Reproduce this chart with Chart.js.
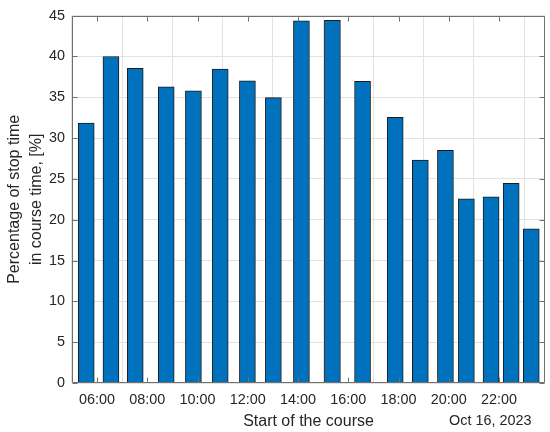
<!DOCTYPE html>
<html><head><meta charset="utf-8">
<script src="https://cdn.jsdelivr.net/npm/chart.js@4.4.0/dist/chart.umd.min.js"></script>
<style>html,body{margin:0;padding:0;background:#fff;overflow:hidden;}</style>
</head><body>
<canvas id="c" width="550" height="432" style="width:550px;height:432px;display:block"></canvas>
<script>
// ---- data ----
const startTimes = ["05:34","06:33","07:31","08:45","09:50","10:54","11:59","13:01","14:08",
                    "15:22","16:34","17:52","18:52","19:52","20:42","21:41","22:29","23:17"];
const stopPercent = [31.85, 40.0, 38.55, 36.27, 35.8, 38.45, 37.0, 34.95, 44.35,
                     44.43, 36.96, 32.55, 27.3, 28.5, 22.55, 22.8, 24.45, 18.9];
const xTickHours = [6, 8, 10, 12, 14, 16, 18, 20, 22];
const xRange = [5.0, 23.83];
const yRange = [0, 45];
const yStep = 5;
const xTitle = "Start of the course";
const yTitle = ["Percentage of stop time", "in course time, [%]"];
const dateLabel = "Oct 16, 2023";

// ---- helpers ----
const toHours = t => { const [h, m] = t.split(":").map(Number); return h + m / 60; };
const fmtHour = v => String(Math.round(v)).padStart(2, "0") + ":00";
const points = startTimes.map((t, i) => ({ x: toHours(t), y: stopPercent[i] }));

const FONT = "'Liberation Sans', Arial, Helvetica, sans-serif";
const TXT = "#262626";
const AX = "#707070";
const TICK_SIZE = 14.4;
const TITLE_SIZE = 16;

const frameTicks = {
  id: "frameTicks",
  afterDatasetsDraw(chart) {
    const { ctx, chartArea: a, scales: { x, y } } = chart;
    ctx.save();
    ctx.strokeStyle = AX;
    ctx.lineWidth = 1;
    const L = Math.round(a.left) + 0.5, R = Math.round(a.right) - 0.5;
    const T = Math.round(a.top) + 0.5, B = Math.round(a.bottom) - 0.5;
    ctx.beginPath();
    ctx.rect(L, T, R - L, B - T);
    xTickHours.forEach(h => {
      const px = Math.round(x.getPixelForValue(h)) + 0.5;
      ctx.moveTo(px, B); ctx.lineTo(px, B - 5);
      ctx.moveTo(px, T); ctx.lineTo(px, T + 5);
    });
    for (let v = yRange[0]; v <= yRange[1]; v += yStep) {
      const py = Math.round(y.getPixelForValue(v)) + 0.5;
      ctx.moveTo(L, py); ctx.lineTo(L + 5, py);
      ctx.moveTo(R, py); ctx.lineTo(R - 5, py);
    }
    ctx.stroke();
    ctx.restore();
  },
  afterDraw(chart) {
    const { ctx } = chart;
    ctx.save();
    ctx.fillStyle = TXT;
    ctx.font = TICK_SIZE + "px " + FONT;
    ctx.textAlign = "left";
    ctx.textBaseline = "alphabetic";
    ctx.fillText(dateLabel, 449, 425);
    ctx.restore();
  }
};

new Chart(document.getElementById("c"), {
  type: "bar",
  data: {
    datasets: [{
      data: points,
      backgroundColor: "#0072BD",
      borderColor: "#1a1a1a",
      borderWidth: 1,
      barThickness: 16
    }]
  },
  options: {
    responsive: false,
    animation: false,
    devicePixelRatio: 1,
    layout: { padding: { top: 9, right: 5, left: 0, bottom: 0 } },
    plugins: { legend: { display: false }, tooltip: { enabled: false } },
    scales: {
      x: {
        type: "linear",
        offset: false,
        min: xRange[0], max: xRange[1],
        afterBuildTicks: s => { s.ticks = xTickHours.map(v => ({ value: v })); },
        afterFit: s => { s.height = 49; },
        grid: { color: "#e2e2e2", drawTicks: false, tickLength: 0 },
        border: { display: false },
        ticks: { color: TXT, font: { family: FONT, size: TICK_SIZE }, padding: 8, maxRotation: 0, autoSkip: false,
                 callback: v => fmtHour(v) },
        title: { display: true, text: xTitle, color: TXT, font: { family: FONT, size: TITLE_SIZE, lineHeight: 1.2 },
                 padding: { top: 0, bottom: 1 } }
      },
      y: {
        min: yRange[0], max: yRange[1],
        afterFit: s => { s.width = 72; },
        grid: { color: "#e2e2e2", drawTicks: false, tickLength: 0 },
        border: { display: false },
        ticks: { stepSize: yStep, color: TXT, font: { family: FONT, size: TICK_SIZE }, padding: 7 },
        title: { display: true, text: yTitle, color: TXT, font: { family: FONT, size: TITLE_SIZE, lineHeight: 1.35 },
                 padding: { top: 4, bottom: 0 } }
      }
    }
  },
  plugins: [frameTicks]
});
</script>
</body></html>
